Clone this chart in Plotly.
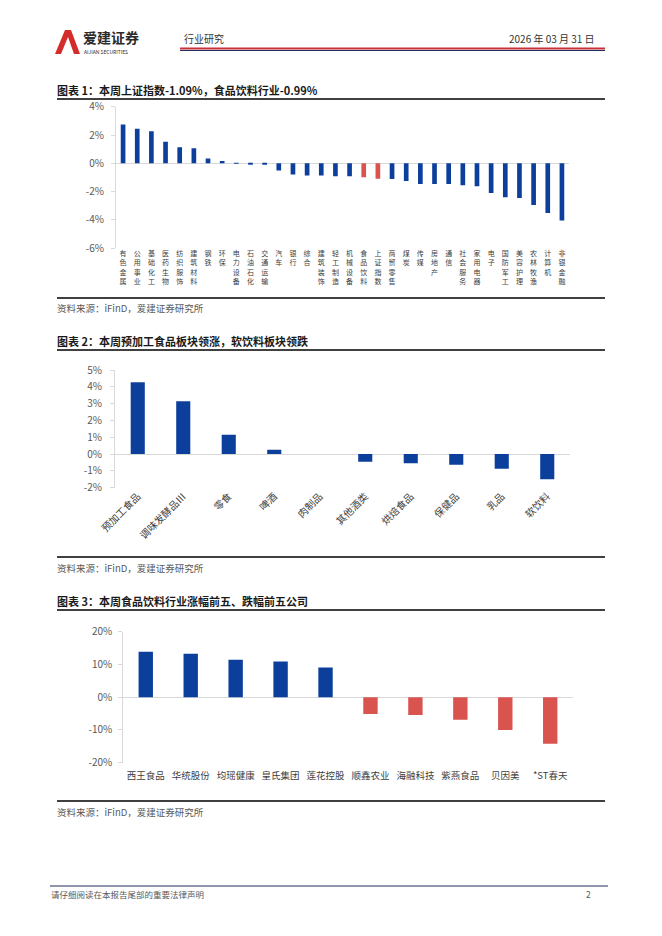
import plotly.graph_objects as go

# ---------------- data ----------------
c1_categories = ["有色金属", "公用事业", "基础化工", "医药生物", "纺织服饰", "建筑材料", "钢铁", "环保",
                 "电力设备", "石油石化", "交通运输", "汽车", "银行", "综合", "建筑装饰", "轻工制造",
                 "机械设备", "食品饮料", "上证指数", "商贸零售", "煤炭", "传媒", "房地产", "通信",
                 "社会服务", "家用电器", "电子", "国防军工", "美容护理", "农林牧渔", "计算机", "非银金融"]
c1_values = [2.75, 2.45, 2.26, 1.53, 1.13, 1.06, 0.35, 0.16,
             0.03, -0.10, -0.10, -0.50, -0.78, -0.85, -0.85, -0.92,
             -0.92, -0.99, -1.09, -1.10, -1.25, -1.46, -1.46, -1.46,
             -1.55, -1.62, -2.10, -2.40, -2.45, -2.94, -3.51, -4.03]
c1_highlight = ["食品饮料", "上证指数"]
c1_yticks = [-6, -4, -2, 0, 2, 4]

c2_categories = ["预加工食品", "调味发酵品Ⅲ", "零食", "啤酒", "肉制品", "其他酒类",
                 "烘焙食品", "保健品", "乳品", "软饮料"]
c2_values = [4.27, 3.14, 1.15, 0.26, 0.0, -0.46, -0.54, -0.64, -0.87, -1.50]
c2_yticks = [-2, -1, 0, 1, 2, 3, 4, 5]

c3_categories = ["西王食品", "华统股份", "均瑶健康", "皇氏集团", "莲花控股",
                 "顺鑫农业", "海融科技", "紫燕食品", "贝因美", "*ST春天"]
c3_values = [13.9, 13.3, 11.4, 10.9, 9.05, -5.1, -5.4, -6.9, -10.0, -14.2]
c3_yticks = [-20, -10, 0, 10, 20]

titles = ["图表 1：本周上证指数-1.09%，食品饮料行业-0.99%",
          "图表 2：本周预加工食品板块领涨，软饮料板块领跌",
          "图表 3：本周食品饮料行业涨幅前五、跌幅前五公司"]
source_text = "资料来源：iFinD，爱建证券研究所"

# ---------------- style ----------------
BLUE = "#0C3F9C"
RED = "#D9534F"
GRID = "#D9D9D9"
TXT = "#404040"
FONT = "Noto Sans CJK SC"

# page is 662x936; the html body has an 8px margin, so the figure is drawn 8px in
OFF = 8
W, H = 662 - 2 * OFF, 936 - 2 * OFF


def X(px):
    return (px - OFF) / W


def Y(py):
    return 1 - (py - OFF) / H


fig = go.Figure()

# chart 1
fig.add_trace(go.Bar(
    x=c1_categories, y=c1_values,
    marker=dict(color=[RED if c in c1_highlight else BLUE for c in c1_categories], line_width=0),
    width=0.33, xaxis="x", yaxis="y", showlegend=False, hoverinfo="skip"))
# chart 2
fig.add_trace(go.Bar(
    x=c2_categories, y=c2_values, marker=dict(color=BLUE, line_width=0),
    width=0.31, xaxis="x2", yaxis="y2", showlegend=False, hoverinfo="skip"))
# chart 3
fig.add_trace(go.Bar(
    x=c3_categories, y=c3_values,
    marker=dict(color=[BLUE if v >= 0 else RED for v in c3_values], line_width=0),
    width=0.32, xaxis="x3", yaxis="y3", showlegend=False, hoverinfo="skip"))


def yaxis(domain, ticks, anchor, standoff):
    return dict(domain=domain, range=[ticks[0], ticks[-1]], tickvals=ticks,
                ticktext=[f"{t}%" for t in ticks], showgrid=False, automargin=False,
                zeroline=True, zerolinecolor=GRID, zerolinewidth=1,
                showline=True, linecolor=GRID, linewidth=1,
                ticks="outside", ticklen=4, tickcolor=GRID, ticklabelstandoff=standoff,
                tickfont=dict(family=FONT, size=10, color="#595959"),
                anchor=anchor, fixedrange=True)


def xaxis(domain, anchor, **kw):
    d = dict(domain=domain, type="category", showgrid=False, showline=False,
             zeroline=False, ticks="", anchor=anchor, automargin=False, fixedrange=True)
    d.update(kw)
    return d


fig.update_layout(
    template="none",
    width=W, height=H, autosize=False,
    margin=dict(l=0, r=0, t=0, b=0, pad=0),
    paper_bgcolor="white", plot_bgcolor="white",
    xaxis=xaxis([X(116), X(569)], "y", tickmode="array", tickvals=c1_categories,
                ticktext=["<br>".join(list(c)) for c in c1_categories],
                tickangle=0, tickfont=dict(family=FONT, size=7, color=TXT)),
    yaxis=yaxis([Y(248.3), Y(106.7)], c1_yticks, "x", 5),
    xaxis2=xaxis([X(115), X(570)], "y2", tickangle=-45,
                 tickfont=dict(family=FONT, size=10, color=TXT)),
    yaxis2=yaxis([Y(487.7), Y(370)], c2_yticks, "x2", 6),
    xaxis3=xaxis([X(123.3), X(572.7)], "y3", tickangle=0, ticklabelstandoff=6,
                 tickfont=dict(family=FONT, size=9.5, color=TXT)),
    yaxis3=yaxis([Y(762.7), Y(631.7)], c3_yticks, "x3", 4),
)

shapes = []
annotations = []


def hline(py, x0, x1, color, width):
    shapes.append(dict(type="line", xref="paper", yref="paper", x0=X(x0), x1=X(x1),
                       y0=Y(py), y1=Y(py), line=dict(color=color, width=width)))


def text(px, py, s, size, color, bold=False, anchor="left"):
    annotations.append(dict(xref="paper", yref="paper", x=X(px), y=Y(py), text=f"<b>{s}</b>" if bold else s,
                            showarrow=False, xanchor=anchor, yanchor="middle", borderpad=0,
                            font=dict(family=FONT, size=size, color=color)))


# header
pts = [(55, 54), (65, 30), (71, 30), (80, 54), (74, 54), (68, 37), (61, 54)]
path = "M " + " L ".join(f"{X(a):.5f} {Y(b):.5f}" for a, b in pts) + " Z"
shapes.append(dict(type="path", xref="paper", yref="paper", path=path,
                   fillcolor="#D42B2B", line=dict(width=0)))
text(82, 37, "爱建证券", 14, "#2B2B2B", bold=True)
text(83, 51.5, "AIJIAN SECURITIES", 5, "#2B2B2B")
text(183, 39, "行业研究", 10, "#333333")
text(596, 39, "2026 年 03 月 31 日", 10, "#333333", anchor="right")
hline(48.5, 180, 605, "#C8303A", 2)
hline(50.5, 180, 605, "#1F2F5A", 1)

# section titles and rules
title_y = [90, 341, 601]
top_rule = [99, 350, 610]
bottom_rule = [298, 557, 801]
source_y = [308, 568, 812]
for t, ty, tr, br, sy in zip(titles, title_y, top_rule, bottom_rule, source_y):
    text(56, ty, t, 11, "#1A1A1A", bold=True)
    hline(tr, 57, 605, "#000000", 1.5)
    hline(br, 57, 605, "#000000", 1.5)
    text(56, sy, source_text, 9.5, "#595959")

# footer
hline(886, 50, 608, "#1F2F5A", 1)
text(50, 894, "请仔细阅读在本报告尾部的重要法律声明", 8.5, "#595959")
text(592, 894, "2", 8.5, "#595959", anchor="right")

fig.update_layout(shapes=shapes, annotations=annotations)
fig.write_html("out.html")
